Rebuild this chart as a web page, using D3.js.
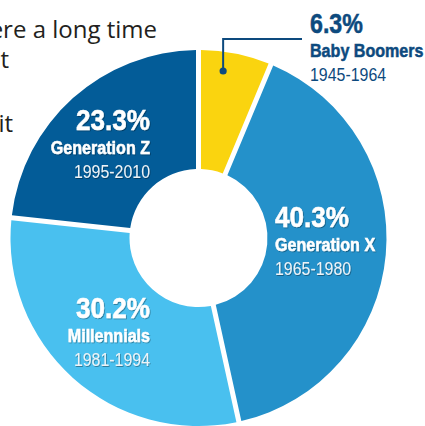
<!DOCTYPE html>
<html>
<head>
<meta charset="utf-8">
<script src="https://cdn.jsdelivr.net/npm/d3@7"></script>
<style>
  html, body { margin: 0; padding: 0; background: #fff; }
  svg { display: block; }
</style>
</head>
<body>
<div class="container"></div>
<script>
// donut of generations

const generations = ["Baby Boomers", "Generation X", "Millennials", "Generation Z"];
const years = ["1945-1964", "1965-1980", "1981-1994", "1995-2010"];
const shares = [6.3, 40.3, 30.2, 23.3];
const colors = ["#fad40f", "#2491ca", "#49c0ef", "#035c98"];

// text behind the chart (cut off on the left)
const bodyLines = ["ere a long time", "t", "it"];

let w = 425;
let h = 426;
const cx = 198.5, cy = 238;
const outerR = 188, innerR = 69;
const gap = 5;

// label anchors: x, baseline of the percent line, anchor, light/dark
const labelPos = [
  { x: 310, y: 33, anchor: "start", dark: true, size: 27 },
  { x: 275, y: 227, anchor: "start", dark: false, size: 29 },
  { x: 150, y: 318, anchor: "end", dark: false, size: 29 },
  { x: 150, y: 130, anchor: "end", dark: false, size: 29 },
];

const navy = "#0d4a7e";
const font = "'Liberation Sans', Arial, sans-serif";

const svg = d3.select(".container")
  .append("svg")
  .attr("width", w)
  .attr("height", h)
  .attr("viewBox", [0, 0, w, h]);

const defs = svg.append("defs");
defs.append("filter")
  .attr("id", "shadow")
  .attr("x", "-10%").attr("y", "-10%")
  .attr("width", "120%").attr("height", "130%")
  .append("feDropShadow")
  .attr("dx", 0.8).attr("dy", 1)
  .attr("stdDeviation", 0.6)
  .attr("flood-color", "#000")
  .attr("flood-opacity", 0.35);

// paragraph text
svg.append("g")
  .selectAll("text")
  .data(bodyLines)
  .join("text")
  .attr("x", (d, i) => [157, 9, 13][i])
  .attr("y", (d, i) => [38, 68, 132][i])
  .attr("text-anchor", "end")
  .attr("font-family", "'Open Sans', sans-serif")
  .attr("font-size", 24)
  .attr("fill", "#231f20")
  .text((d) => d);

const data = generations.map((g, i) => ({
  name: g, years: years[i], value: shares[i], color: colors[i],
}));

const pie = d3.pie().sort(null).value((d) => d.value);
const arc = d3.arc()
  .innerRadius(innerR)
  .outerRadius(outerR)
  .padAngle(gap / outerR)
  .padRadius(outerR);

const arcs = pie(data);

svg.append("g")
  .attr("transform", `translate(${cx},${cy})`)
  .selectAll("path")
  .data(arcs)
  .join("path")
  .attr("d", arc)
  .attr("fill", (d) => d.data.color);

// leader line for the small slice
const boom = arcs[0];
const lineX = cx + 169 * Math.sin(boom.startAngle + 0.37 * (boom.endAngle - boom.startAngle));
const dotY = 71, elbowY = 39, lineEnd = 302;
svg.append("path")
  .attr("d", `M${lineX},${dotY}V${elbowY}H${lineEnd}`)
  .attr("fill", "none")
  .attr("stroke", navy)
  .attr("stroke-width", 2);
svg.append("circle")
  .attr("cx", lineX)
  .attr("cy", dotY)
  .attr("r", 3.6)
  .attr("fill", navy);

// labels
function line(g, txt, dy, size, weight, sx, fill, anchor, heavy) {
  g.append("g")
    .attr("transform", `translate(0,${dy}) scale(${sx},1)`)
    .append("text")
    .attr("text-anchor", anchor)
    .attr("font-family", font)
    .attr("font-size", size)
    .attr("font-weight", weight)
    .attr("fill", fill)
    .attr("stroke", heavy ? fill : "none")
    .attr("stroke-width", heavy ? 0.5 : 0)
    .text(txt);
}

data.forEach((d, i) => {
  const p = labelPos[i];
  const g = svg.append("g")
    .attr("transform", `translate(${p.x},${p.y})`)
    .attr("filter", p.dark ? null : "url(#shadow)");
  const main = p.dark ? navy : "#ffffff";
  const sub = p.dark ? navy : "#eef3f7";
  line(g, d.value.toFixed(1) + "%", 0, p.size, "bold", p.dark ? 0.86 : 0.9, main, p.anchor, true);
  line(g, d.name, 24, 18.5, "bold", 0.87, main, p.anchor, true);
  line(g, d.years, 48, 18.5, "normal", 0.86, sub, p.anchor, false);
});
</script>
</body>
</html>
